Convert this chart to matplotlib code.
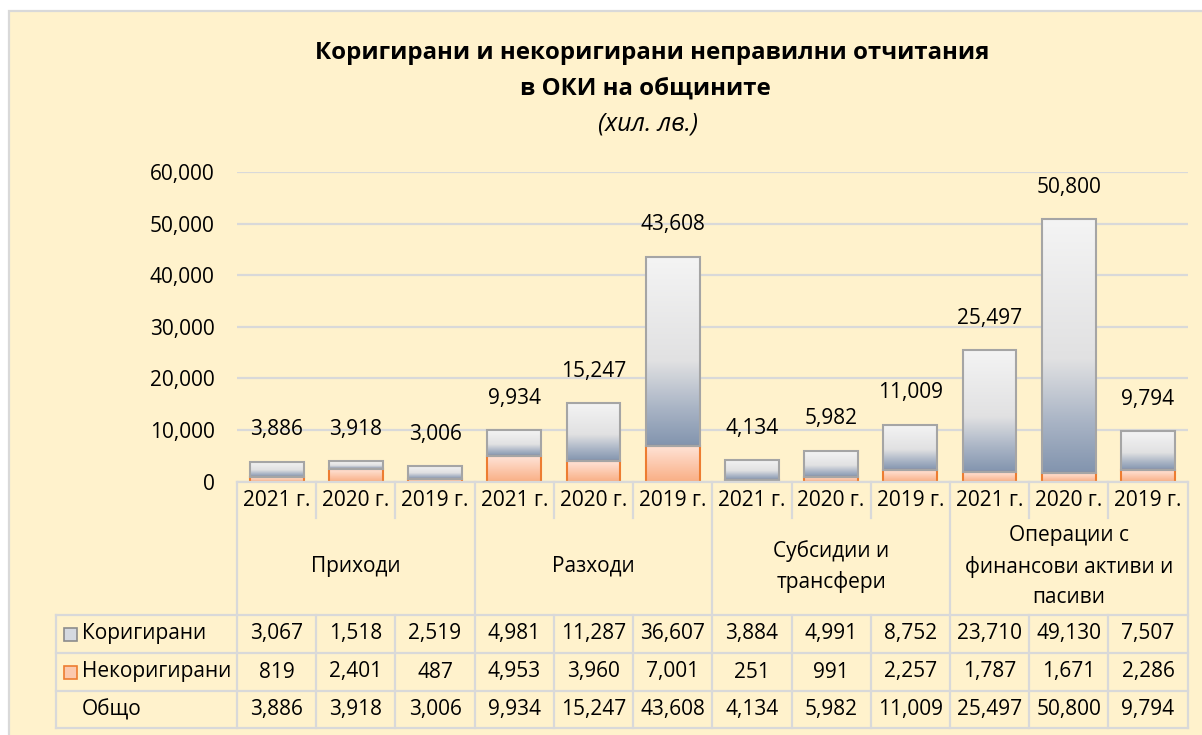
import numpy as np
import matplotlib
matplotlib.use("Agg")
import matplotlib.pyplot as plt
import matplotlib.transforms as mtransforms
from matplotlib.colors import LinearSegmentedColormap
from matplotlib.lines import Line2D
from matplotlib.patches import Rectangle

plt.rcParams['font.family'] = ['Open Sans', 'DejaVu Sans']

# data
groups = ["Приходи", "Разходи", "Субсидии и\nтрансфери", "Операции с\nфинансови активи и\nпасиви"]
years = ["2021 г.", "2020 г.", "2019 г."]
korigirani = [3067, 1518, 2519, 4981, 11287, 36607, 3884, 4991, 8752, 23710, 49130, 7507]
nekorigirani = [819, 2401, 487, 4953, 3960, 7001, 251, 991, 2257, 1787, 1671, 2286]
obshto = [3886, 3918, 3006, 9934, 15247, 43608, 4134, 5982, 11009, 25497, 50800, 9794]
series_names = ["Коригирани", "Некоригирани", "Общо"]

W, H = 1202, 735
fig = plt.figure(figsize=(W / 100, H / 100), dpi=100)
fig.patch.set_facecolor("white")


def fx(px):
    return px / W


def fy(px):
    return 1 - px / H


# chart area background (below the axes)
fig.patches.append(Rectangle((fx(9), -0.05), 1.2, fy(11) + 0.05, transform=fig.transFigure,
                             facecolor="#FFF2CC", edgecolor="#D9D9D9", lw=1.6, zorder=-5))

ax = fig.add_axes([fx(237), fy(481.7), fx(1187.6) - fx(237), fy(172) - fy(481.7)])
ax.set_facecolor("none")
ax.set_zorder(2)

x = np.arange(len(obshto))
width = 0.68

grey_cmap = LinearSegmentedColormap.from_list(
    "grey", [(0.0, "#8294AE"), (0.2, "#A9B4C5"), (0.45, "#E1E1E2"), (1.0, "#F4F4F4")])
orange_cmap = LinearSegmentedColormap.from_list(
    "orange", [(0.0, "#F9AE84"), (1.0, "#FFE4D8")])
grad = np.linspace(0, 1, 256).reshape(-1, 1)

b_low = ax.bar(x, nekorigirani, width, facecolor="none", edgecolor="#ED7D31", lw=1.5, zorder=3)
b_up = ax.bar(x, korigirani, width, bottom=nekorigirani, facecolor="none",
              edgecolor="#A5A5A5", lw=1.5, zorder=3)

for bars, cmap in ((b_low, orange_cmap), (b_up, grey_cmap)):
    for p in bars:
        x0, y0 = p.get_x(), p.get_y()
        im = ax.imshow(grad, cmap=cmap, origin="lower", aspect="auto", zorder=2,
                       extent=[x0, x0 + p.get_width(), y0, y0 + p.get_height()])
        im.set_clip_path(p)

fs = 15
for xi, tot in zip(x, obshto):
    ax.annotate(f"{tot:,}", (xi, tot), xytext=(0, 23), textcoords="offset points",
                ha="center", va="center", fontsize=fs, color="#000000")

ax.set_xlim(-0.5, len(x) - 0.5)
ax.set_ylim(0, 60000)
ax.set_yticks(np.arange(0, 60001, 10000))
ax.set_yticklabels([f"{v:,}" for v in range(0, 60001, 10000)], fontsize=fs)
ax.tick_params(axis="y", length=0, pad=16)
ax.set_xticks([])
ax.yaxis.grid(True, color="#D9D9D9", lw=1.6, zorder=0)
ax.set_axisbelow(True)
for s in ax.spines.values():
    s.set_visible(False)

# title
fig.text(fx(652), fy(53), "Коригирани и некоригирани неправилни отчитания",
         ha="center", va="center", fontsize=17.3, fontweight="bold")
fig.text(fx(645), fy(89), "в ОКИ на общините", ha="center", va="center",
         fontsize=17.3, fontweight="bold")
fig.text(fx(648), fy(124), "(хил. лв.)", ha="center", va="center",
         fontsize=18, style="italic")

# data table below the axis
tr = mtransforms.blended_transform_factory(ax.transData, fig.transFigure)
lc = "#D9D9D9"
lw = 1.6
n = len(x)
edges = np.arange(n + 1) - 0.5
row_y = [481.7, 518, 615, 653, 691, 728.3]


def hline(y, x0=-0.5, x1=n - 0.5):
    fig.lines.append(Line2D([x0, x1], [fy(y), fy(y)], transform=tr, color=lc, lw=lw, zorder=5))


def vline(xd, y0, y1):
    fig.lines.append(Line2D([xd, xd], [fy(y0), fy(y1)], transform=tr, color=lc, lw=lw, zorder=5))


left_px = 55.5
for y in row_y[2:]:
    fig.lines.append(Line2D([fx(left_px), fx(1187.6)], [fy(y), fy(y)],
                            transform=fig.transFigure, color=lc, lw=lw, zorder=5))
hline(row_y[0])
fig.lines.append(Line2D([fx(left_px), fx(left_px)], [fy(row_y[2]), fy(row_y[5])],
                        transform=fig.transFigure, color=lc, lw=lw, zorder=5))
for i, e in enumerate(edges):
    if i % 3 == 0:
        vline(e, row_y[0], row_y[5])
    else:
        vline(e, row_y[0], row_y[1])
        vline(e, row_y[2], row_y[5])

for i in range(n):
    fig.text(i, fy(500.7), years[i % 3], transform=tr, ha="center", va="center", fontsize=fs)
for g, name in enumerate(groups):
    fig.text(3 * g + 1, fy(566.5), name, transform=tr, ha="center", va="center",
             fontsize=fs, linespacing=1.55)

rows = [korigirani, nekorigirani, obshto]
row_c = [(row_y[2] + row_y[3]) / 2, (row_y[3] + row_y[4]) / 2, (row_y[4] + row_y[5]) / 2]
for vals, yc, name in zip(rows, row_c, series_names):
    fig.text(fx(82), fy(yc), name, ha="left", va="center", fontsize=fs)
    for i, v in enumerate(vals):
        fig.text(i, fy(yc), f"{v:,}", transform=tr, ha="center", va="center", fontsize=fs)

# legend keys in the table
ks = 13
fig.patches.append(Rectangle((fx(64), fy(row_c[0] + ks / 2)), fx(ks), ks / H,
                             transform=fig.transFigure, facecolor="#D5D9E0",
                             edgecolor="#8C8C8C", lw=1.2, zorder=6))
fig.patches.append(Rectangle((fx(64), fy(row_c[1] + ks / 2)), fx(ks), ks / H,
                             transform=fig.transFigure, facecolor="#FBC9AE",
                             edgecolor="#ED7D31", lw=1.2, zorder=6))

fig.savefig("out.png", dpi=100, facecolor=fig.get_facecolor())
